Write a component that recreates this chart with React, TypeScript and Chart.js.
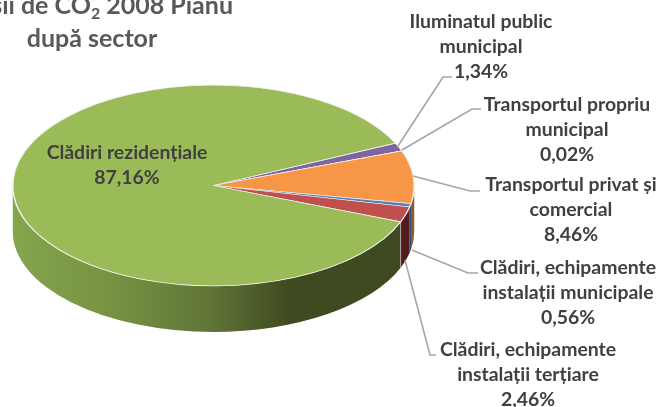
import React, { useEffect, useRef } from "react";
import { Chart, registerables } from "chart.js";

Chart.register(...registerables);

// Clockwise from the slice that starts the pie
const categories: string[][] = [
  ["Iluminatul public", "municipal"],
  ["Transportul propriu", "municipal"],
  ["Transportul privat și", "comercial"],
  ["Clădiri, echipamente", "instalații municipale"],
  ["Clădiri, echipamente", "instalații terțiare"],
  ["Clădiri rezidențiale"],
];
const shares: number[] = [1.34, 0.02, 8.46, 0.56, 2.46, 87.16];
const topColors: string[] = ["#8064a2", "#4bacc6", "#f79646", "#4f81bd", "#c0504d", "#9bbb59"];
const sideColors: string[] = ["#4d3c61", "#2d6776", "#8a5c30", "#2f4d71", "#521b1c", "#3f4a20"];
const titleStart = "Emisii de CO";
const titleSub = "2";
const titleEnd = " 2008 Pianu";
const titleSecond = "după sector";

const FONT = "Lato, 'Open Sans', sans-serif";
const TEXT = "#404040";
const TITLE = "#595959";
const CY = 185.5;
const SQUASH = 0.5;
const DEPTH = 46;

// label block centre and leader line (null: no leader)
const labelBoxes = [
  { x: 481, y: 22, leader: [[398, 146], [443, 77], [452, 77]] },
  { x: 567, y: 105, leader: [[402, 150], [472, 109], [481, 109]] },
  { x: 571, y: 185, leader: [[413, 176], [470, 191], [480, 191]] },
  { x: 568, y: 268, leader: [[412, 250], [468, 273], [478, 273]] },
  { x: 528, y: 350, leader: [[405, 260], [430, 355], [436, 355]] },
  { x: 127, y: 153, leader: null },
];

const pct = (v: number) => v.toFixed(2).replace(".", ",") + "%";

const pie3d = {
  id: "pie3d",
  beforeDatasetsDraw(chart: any) {
    const { ctx } = chart;
    const arcs = chart.getDatasetMeta(0).data;
    const a0 = arcs[0];
    const rx = a0.outerRadius;
    const ry = rx * SQUASH;
    const cx = a0.x;
    const left = cx - rx;
    const right = cx + rx;
    arcs.forEach((arc: any, i: number) => {
      // wrap the slice's angles and keep the part facing the viewer
      let s = arc.startAngle;
      let e = arc.endAngle;
      while (s < 0) { s += Math.PI * 2; e += Math.PI * 2; }
      while (s >= Math.PI * 2) { s -= Math.PI * 2; e -= Math.PI * 2; }
      const ranges: [number, number][] = [[s, e], [s - Math.PI * 2, e - Math.PI * 2]];
      ranges.forEach(([p, q]) => {
        const from = Math.max(p, 0);
        const to = Math.min(q, Math.PI);
        if (to <= from) return;
        ctx.beginPath();
        ctx.ellipse(cx, CY, rx, ry, 0, from, to);
        ctx.ellipse(cx, CY + DEPTH, rx, ry, 0, to, from, true);
        ctx.closePath();
        if (i === 5) {
          const g = ctx.createLinearGradient(left, 0, right, 0);
          g.addColorStop(0, "#85a54d");
          g.addColorStop(0.25, "#779243");
          g.addColorStop(0.5, "#5f7336");
          g.addColorStop(0.69, "#3f4a20");
          g.addColorStop(1, "#3f4a20");
          ctx.fillStyle = g;
        } else {
          ctx.fillStyle = sideColors[i];
        }
        ctx.fill();
        // pale seam where the big slice's wall begins
        if (i === 5) {
          const ex = cx + rx * Math.cos(from);
          const ey = CY + ry * Math.sin(from);
          ctx.beginPath();
          ctx.moveTo(ex, ey);
          ctx.lineTo(ex, ey + DEPTH);
          ctx.strokeStyle = "#a9a9a0";
          ctx.lineWidth = 1;
          ctx.stroke();
        }
      });
    });
    ctx.save();
    ctx.translate(0, CY);
    ctx.scale(1, SQUASH);
    ctx.translate(0, -a0.y);
  },
  afterDatasetsDraw(chart: any) {
    const { ctx } = chart;
    ctx.restore();

    // leaders
    ctx.save();
    ctx.strokeStyle = "#a6a6a6";
    ctx.lineWidth = 1.6;
    labelBoxes.forEach((b) => {
      if (!b.leader) return;
      ctx.beginPath();
      b.leader.forEach(([x, y], k) => (k ? ctx.lineTo(x, y) : ctx.moveTo(x, y)));
      ctx.stroke();
    });

    // data labels
    ctx.fillStyle = TEXT;
    ctx.textAlign = "center";
    ctx.textBaseline = "middle";
    ctx.font = `bold 19.4px ${FONT}`;
    categories.forEach((lines, i) => {
      const b = labelBoxes[i];
      [...lines, pct(shares[i])].forEach((t, k) => ctx.fillText(t, b.x, b.y + k * 25));
    });

    // title, running off the top and left of the picture
    ctx.fillStyle = TITLE;
    ctx.textBaseline = "alphabetic";
    ctx.textAlign = "left";
    const subFont = `bold 16px ${FONT}`;
    const mainFont = `bold 25px ${FONT}`;
    ctx.font = mainFont;
    const w1 = ctx.measureText(titleStart).width;
    const w3 = ctx.measureText(titleEnd).width;
    ctx.font = subFont;
    const w2 = ctx.measureText(titleSub).width;
    const x0 = 233 - (w1 + w2 + w3);
    ctx.font = mainFont;
    ctx.fillText(titleStart, x0, 14);
    ctx.fillText(titleEnd, x0 + w1 + w2, 14);
    ctx.font = subFont;
    ctx.fillText(titleSub, x0 + w1, 19);
    ctx.font = mainFont;
    ctx.textAlign = "center";
    ctx.fillText(titleSecond, 92, 47);
    ctx.restore();
  },
};

export default function App() {
  const ref = useRef<HTMLCanvasElement>(null);
  useEffect(() => {
    const chart = new Chart(ref.current!, {
      type: "pie",
      data: {
        labels: categories.map((c) => c.join(" ")),
        datasets: [
          {
            data: shares,
            backgroundColor: topColors,
            borderColor: "#f2f2ee",
            borderWidth: 1.5,
            clip: false,
          } as any,
        ],
      },
      options: {
        responsive: false,
        animation: false,
        rotation: 65,
        layout: { padding: { left: 12, right: 245, top: 2, bottom: 2 } },
        plugins: { legend: { display: false }, tooltip: { enabled: false } },
      },
      plugins: [pie3d],
    });
    return () => chart.destroy();
  }, []);
  return (
    <canvas
      ref={ref}
      width={660}
      height={407}
      style={{ position: "absolute", left: 0, top: 0, display: "block" }}
    />
  );
}
